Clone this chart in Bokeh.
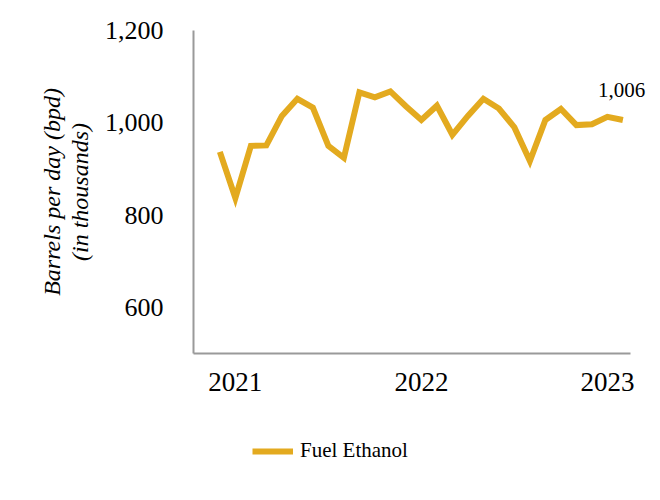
from bokeh.plotting import figure
from bokeh.layouts import column
from bokeh.models import ColumnDataSource, Legend, LegendItem, FixedTicker, Range1d, Label
from bokeh.embed import file_html
from bokeh.resources import INLINE

months = ["2020-12", "2021-01", "2021-02", "2021-03", "2021-04", "2021-05", "2021-06",
          "2021-07", "2021-08", "2021-09", "2021-10", "2021-11", "2021-12",
          "2022-01", "2022-02", "2022-03", "2022-04", "2022-05", "2022-06",
          "2022-07", "2022-08", "2022-09", "2022-10", "2022-11", "2022-12",
          "2023-01", "2023-02"]
fuel_ethanol = [937, 837, 950, 951, 1015, 1052, 1033, 950, 924, 1066, 1055, 1068,
                1036, 1006, 1037, 974, 1015, 1052, 1031, 990, 917, 1006, 1030, 995,
                997, 1013, 1006]
series_name = "Fuel Ethanol"
year_ticks = [1, 13, 25]
year_labels = ["2021", "2022", "2023"]
y_ticks = [600, 800, 1000, 1200]

idx = list(range(len(months)))
src = ColumnDataSource(dict(x=idx, y=fuel_ethanol, m=months))

COLOR = "#E3AA1F"
FONT = "Liberation Serif"
X_START, X_AXIS_END, X_END = -1.7, 26.5, 27.78
W = 650

p = figure(width=W, height=413, output_backend="svg", toolbar_location=None,
           x_range=Range1d(X_START, X_END), y_range=Range1d(500, 1200),
           min_border_left=193, min_border_right=0, min_border_top=30,
           min_border_bottom=60)
p.outline_line_color = None
p.xgrid.visible = False
p.ygrid.visible = False
p.background_fill_color = "white"
p.border_fill_color = "white"

r = p.line("x", "y", source=src, line_color=COLOR, line_width=6, line_join="miter")

# y axis
ya = p.yaxis[0]
ya.ticker = FixedTicker(ticks=y_ticks)
ya.major_label_overrides = {600: "600", 800: "800", 1000: "1,000", 1200: "1,200"}
ya.major_tick_line_color = None
ya.minor_tick_line_color = None
ya.major_tick_out = 0
ya.major_label_standoff = 30
ya.axis_line_color = "#9a9a9a"
ya.axis_line_width = 2
ya.major_label_text_font = FONT
ya.major_label_text_font_size = "26px"
ya.major_label_text_color = "black"
ya.axis_label = "Barrels per day (bpd)\n(in thousands)"
ya.axis_label_text_font = FONT
ya.axis_label_text_font_style = "italic"
ya.axis_label_text_font_size = "24px"
ya.axis_label_text_line_height = 1.08
ya.axis_label_text_color = "black"
ya.axis_label_standoff = 9

# x axis
xa = p.xaxis[0]
xa.bounds = (X_START, X_AXIS_END)
xa.ticker = FixedTicker(ticks=year_ticks)
xa.major_label_overrides = {t: l for t, l in zip(year_ticks, year_labels)}
xa.major_tick_line_color = None
xa.minor_tick_line_color = None
xa.major_tick_out = 0
xa.major_label_standoff = 19
xa.axis_line_color = "#9a9a9a"
xa.axis_line_width = 2
xa.major_label_text_font = FONT
xa.major_label_text_font_size = "27px"
xa.major_label_text_color = "black"

# end label
last = len(months) - 1
p.add_layout(Label(x=idx[last], y=fuel_ethanol[last], text=f"{fuel_ethanol[last]:,}",
                   x_offset=-25, y_offset=23, text_font=FONT, text_font_size="21px",
                   text_color="black"))

# legend figure (frame aligned with the main plot's frame by the column layout)
pl = figure(width=W, height=71, output_backend="svg", toolbar_location=None,
            x_range=Range1d(-1000, -999), y_range=Range1d(-1000, -999),
            x_axis_location=None, y_axis_location=None,
            min_border_left=0, min_border_right=0, min_border_top=0, min_border_bottom=0)
pl.outline_line_color = None
pl.xgrid.visible = False
pl.ygrid.visible = False
rl = pl.line("x", "y", source=src, line_color=COLOR, line_width=6)
legend = Legend(items=[LegendItem(label=series_name, renderers=[rl])],
                location=(59, 21), orientation="horizontal",
                label_text_font=FONT, label_text_font_size="21px",
                label_text_color="black",
                glyph_width=41, glyph_height=20, label_standoff=7,
                border_line_color=None, background_fill_alpha=0,
                margin=0, padding=0)
pl.add_layout(legend, "center")

open("out.html", "w").write(file_html(column(p, pl, spacing=0), INLINE))
